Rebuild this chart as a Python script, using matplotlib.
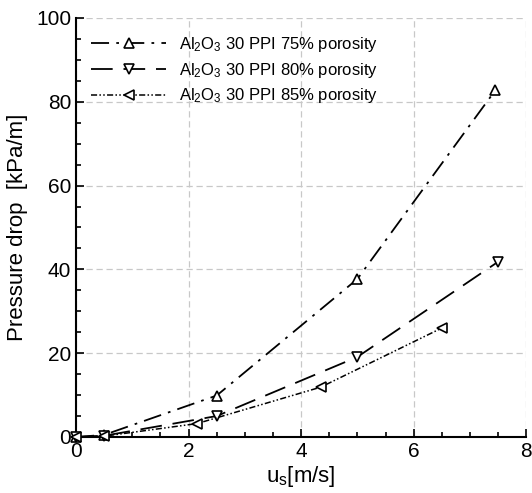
import numpy as np
import matplotlib.pyplot as plt

plt.rcParams['font.family'] = ['Liberation Sans', 'DejaVu Sans']
plt.rcParams['mathtext.default'] = 'regular'

# datos
u_75 = [0.0, 0.5, 2.5, 5.0, 7.45]
dp_75 = [0.0, 0.5, 9.9, 37.7, 82.7]

u_80 = [0.0, 0.5, 2.5, 5.0, 7.5]
dp_80 = [0.0, 0.3, 5.0, 19.1, 41.8]

u_85 = [0.0, 0.5, 2.15, 4.35, 6.5]
dp_85 = [0.0, 0.2, 3.2, 11.9, 26.0]

labels = ['Al$_2$O$_3$ 30 PPI 75% porosity',
          'Al$_2$O$_3$ 30 PPI 80% porosity',
          'Al$_2$O$_3$ 30 PPI 85% porosity']

fig = plt.figure(figsize=(5.32, 4.93), dpi=100)
ax = fig.add_axes([0.143, 0.1136, 0.846, 0.85])

# Curvas
ax.plot(u_75, dp_75, color='k', lw=1.3, linestyle=(0, (10, 4, 1.5, 4)),
        marker='^', ms=7, mfc='white', mec='k', mew=1.2, label=labels[0],
        clip_on=False, zorder=3)
ax.plot(u_80, dp_80, color='k', lw=1.3, linestyle=(0, (12, 6)),
        marker='v', ms=7, mfc='white', mec='k', mew=1.2, label=labels[1],
        clip_on=False, zorder=3)
ax.plot(u_85, dp_85, color='k', lw=1.1, linestyle=(0, (4, 1.5, 1, 1.5, 1, 1.5)),
        marker='<', ms=7, mfc='white', mec='k', mew=1.2, label=labels[2],
        clip_on=False, zorder=3)

ax.set_xlim(0, 8)
ax.set_ylim(0, 100)
ax.set_xticks([0, 2, 4, 6, 8])
ax.set_yticks([0, 20, 40, 60, 80, 100])
ax.set_xticks(np.arange(0, 8.01, 0.5), minor=True)
ax.set_yticks(np.arange(0, 100.1, 5), minor=True)
ax.tick_params(which='both', direction='in', top=False, right=False,
               labelsize=15, width=1.2)
ax.tick_params(which='major', length=6)
ax.tick_params(which='minor', length=3.5)
ax.grid(which='major', color='#c8c8c8', linestyle=(0, (5, 3)), linewidth=0.9)

ax.spines['top'].set_visible(False)
ax.spines['right'].set_visible(False)
ax.spines['left'].set_linewidth(1.5)
ax.spines['bottom'].set_linewidth(1.5)

ax.set_xlabel('u$_s$[m/s]', fontsize=16, labelpad=2)
ax.set_ylabel('Pressure drop  [kPa/m]', fontsize=16, labelpad=6)

ax.legend(loc='upper left', frameon=False, fontsize=12, handlelength=4.5,
          bbox_to_anchor=(0.0, 0.995), labelspacing=0.4, handletextpad=0.8,
          borderaxespad=0.5)

fig.savefig('out.png', dpi=100)
